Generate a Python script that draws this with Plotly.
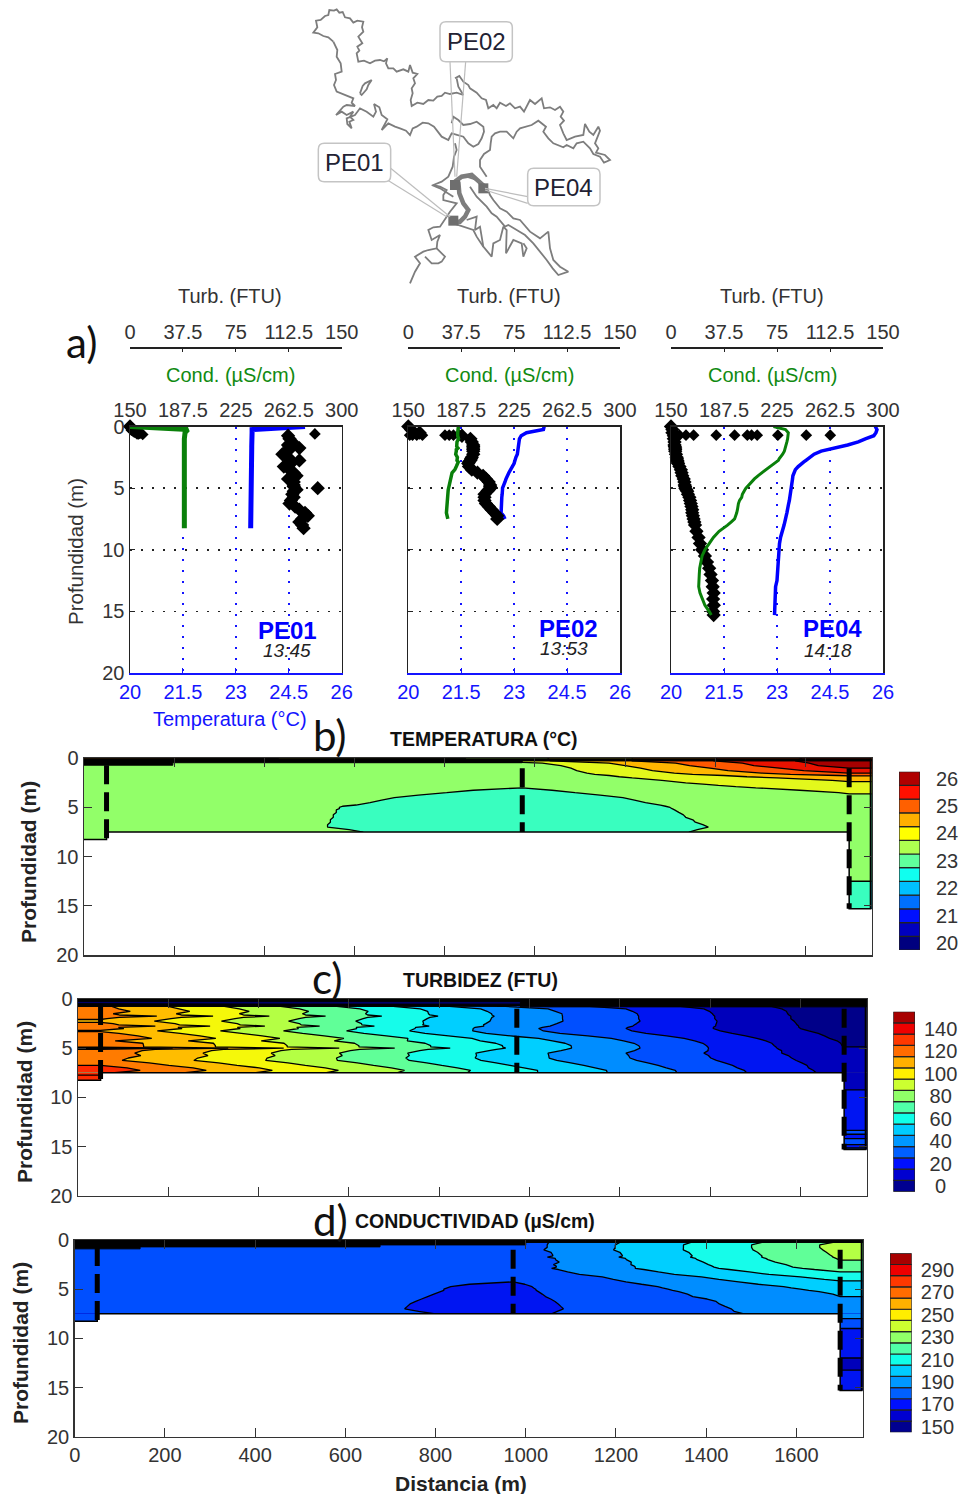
import plotly.graph_objects as go

W, H = 961, 1494
FONT = "Liberation Sans"
INK = "#333333"
BLUE = "#1414ff"
GREEN = "#118a11"

# ---------------- lake map (traced outline, reference crop units) ----------------
MAP_PATHS = [
    [(100,125),(85,112),(70,108),(55,100),(40,98),(52,82),(48,62),(62,60),(75,48),(85,45),(88,30),(102,32),(110,28),(118,38),(128,36),(135,52),(150,55),(160,68),(172,62),(190,65),(186,82),(190,95),(175,110),(180,118),(187,130),(172,140),(178,152),(170,160),(175,185),(192,182),(210,190),(225,182),(240,180),(252,184),(262,175),(258,190),(265,205),(280,205),(290,215),(310,208),(325,215),(330,195),(338,218),(352,222),(340,235),(345,250),(335,265),(338,280),(332,300),(335,318),(352,308),(370,312),(385,300),(400,302),(412,290),(425,288),(435,278),(450,282),(470,278),(490,285)],
    [(100,125),(112,150),(110,170),(122,190),(125,215),(105,222),(108,240),(102,255),(110,275),(135,285),(160,295),(155,308),(165,318),(140,315),(130,320),(108,345),(125,335),(140,345),(160,335),(150,350),(160,360),(148,365),(155,385),(142,372),(140,355),(165,345),(180,325),(200,335),(220,350),(228,335),(222,312),(238,322),(245,345),(262,358),(245,390),(265,370),(285,380),(300,385),(318,392),(330,405),(338,385),(350,380),(368,368),(385,370),(402,380),(425,410),(445,420),(455,400),(470,405),(490,410),(505,430),(520,440),(535,432),(545,415),(552,395),(550,380),(530,365),(510,372),(490,375),(475,360),(460,350),(455,370)],
    [(180,280),(188,258),(195,250),(215,240),(205,255),(200,268),(185,285),(180,280)],
    [(465,235),(478,228),(490,245),(505,255),(510,265),(530,278),(545,295),(558,300),(565,325),(580,315),(590,325),(600,308),(618,318),(630,310),(645,325),(660,320),(672,335),(690,300),(705,312),(725,295),(732,325),(750,322),(765,330),(780,320),(790,335),(782,350),(792,362),(780,375),(790,400),(800,420),(825,410),(850,405),(855,372),(868,395),(880,405),(895,380),(900,392),(885,430),(895,445),(888,458),(915,465),(930,480),(912,488),(900,470),(880,462),(870,445),(850,425),(830,430),(820,445),(800,435),(790,442),(770,435),(760,430),(745,415),(730,395),(738,380),(715,362),(695,375),(680,380),(660,385),(650,395),(640,415),(620,395),(600,395),(585,400),(575,410),(572,430),(570,450),(552,462),(540,480),(540,500),(560,530)],
    [(490,285),(475,260),(470,235)],
    [(465,430),(470,450),(462,470),(458,500),(445,530),(425,545),(400,555),(420,560),(440,570),(430,585),(430,600),(450,605),(470,610),(450,635),(440,650),(425,670),(420,680),(400,682),(385,690),(395,720),(420,705),(412,725),(410,745),(385,750),(370,755),(345,770),(360,790),(345,815),(330,850)],
    [(410,745),(435,770),(425,785),(415,790),(395,790),(375,770)],
    [(500,530),(530,540),(560,560),(570,585),(580,600),(600,625),(620,635),(640,655),(660,660),(690,695),(720,715),(745,695),(750,745),(755,760),(760,780),(780,800),(805,815),(775,825),(758,805),(740,780),(720,755),(700,730),(675,705),(650,690),(625,675),(615,680),(600,660),(590,650),(575,640),(560,620),(530,590),(510,560)],
    [(500,660),(530,650),(525,690),(540,680),(550,740),(575,770),(580,730),(600,720),(610,680),(620,690),(618,760),(640,720),(665,730),(670,770),(680,745),(670,730)],
    [(460,670),(490,680),(520,690),(530,710),(550,740)],
    [(395,555),(420,565),(460,590)],
]
MAP_THICK_A = [(465,545),(485,530),(515,525),(540,545),(560,565)]
MAP_THICK_B = [(475,545),(478,580),(490,610),(505,630),(495,650),(480,665),(460,665)]
MAP_STATIONS_X = [465, 550, 460]
MAP_STATIONS_Y = [555, 565, 662]
MAP_LEADERS = [
    [(450,185),(465,530)], [(497,185),(470,530)],
    [(272,505),(450,650)], [(262,540),(440,650)],
    [(683,590),(555,565)], [(683,610),(555,570)],
]
MAP_BOXES = [("PE02",420,637,65,185),("PE01",55,272,430,545),("PE04",683,900,505,617)]

# ---------------- station profiles ----------------
DEPTH_PE01 = [0,.25,.5,.75,1,1.25,1.5,1.625,1.75,1.875,2,2.25,2.5,2.625,2.75,2.875,3,3.25,3.5,3.75,4,4.25,4.5,4.75,4.875,5,5.125,5.25,5.5,5.75,6,6.25,6.5,6.75,7,7.25,7.5,7.75,8,8.25]
TEMP_PE01 = [24.96,23.46,23.46,23.45,23.45,23.45,23.45,23.45,23.45,23.45,23.45,23.45,23.45,23.45,23.45,23.45,23.45,23.45,23.45,23.45,23.45,23.45,23.45,23.45,23.42,23.42,23.42,23.42,23.42,23.42,23.42,23.42,23.42,23.42,23.42,23.42,23.42,23.42,23.42,23.42]
COND_PE01 = [150,191,189,188.5,188.5,188.5,188.5,188.5,188.5,188.5,188.5,188.5,188.5,188.5,188.5,188.5,188.5,188.5,188.5,188.5,188.5,188.5,188.5,188.5,188.5,188.5,188.5,188.5,188.5,188.5,188.5,188.5,188.5,188.5,188.5,188.5,188.5,188.5,188.5,188.5]
TURB_PE01 = [0,2,6,112,113,115,112,113,120,113,111,108,112,113,120,113,114,109,113,116,118,112,116,116,116,133,118,116,115,116,114,113,117,120,124,126,122,120,122,123]
SPIKE_TURB_PE01 = [1,3,5,7,9,131]
SPIKE_DEPTH_PE01 = [.3,.45,.6,.55,.65,.6]

DEPTH_PE02 = [0,.25,.5,.75,1,1.25,1.5,1.625,1.75,1.875,2,2.25,2.5,2.625,2.75,2.875,3,3.25,3.5,3.75,4,4.25,4.5,4.75,4.875,5,5.125,5.25,5.5,5.75,6,6.25,6.5,6.75,7,7.25,7.5]
TEMP_PE02 = [23.85,23.83,23.35,23.2,23.15,23.14,23.13,23.13,23.12,23.12,23.12,23.09,23.05,23.03,23.02,23.01,23.0,22.94,22.9,22.85,22.8,22.77,22.74,22.7,22.68,22.67,22.67,22.66,22.66,22.65,22.65,22.64,22.64,22.63,22.63,22.7,22.74]
COND_PE02 = [185.5,185,185,185,185.6,184.5,184.3,184.3,185.2,184,184,183.6,184.8,184.5,184.5,185.4,184.7,184,183,181,180.5,180,179,178.5,178.4,178.3,178.3,178.2,178,177.8,177.6,177.4,177.2,177.1,177,177.5,178]
TURB_PE02 = [0,2,8,38,44,45,46,46,46,46,46,46,45,44.5,44,43,42.5,43,45,49,53,55,57,58,58,58,57,56,54,54,54,55,57,59,61,63,63]
SPIKE_TURB_PE02 = [1,3,6,10,26,29,32,36]
SPIKE_DEPTH_PE02 = [.7,.7,.7,.7,.7,.7,.7,.7]

DEPTH_PE04 = [0,.25,.5,.75,1,1.25,1.5,1.625,1.75,1.875,2,2.25,2.5,2.625,2.75,2.875,3,3.25,3.5,3.75,4,4.25,4.5,4.75,4.875,5,5.125,5.25,5.5,5.75,6,6.25,6.5,6.75,7,7.25,7.5,7.75,8,8.5,9,9.5,10,10.5,11,11.5,12,12.5,13,13.5,14,14.5,15,15.3]
TEMP_PE04 = [25.78,25.83,25.8,25.74,25.5,25.3,25.0,24.8,24.55,24.4,24.25,24.05,23.95,23.88,23.82,23.76,23.7,23.6,23.52,23.48,23.45,23.44,23.43,23.41,23.41,23.4,23.39,23.39,23.37,23.36,23.35,23.33,23.32,23.3,23.28,23.26,23.25,23.22,23.2,23.14,23.1,23.07,23.06,23.04,23.03,23.01,23.01,23.0,22.96,22.95,22.94,22.94,22.93,22.93]
COND_PE04 = [222.5,231,233,233,232.5,232,231.5,231.2,231,230.6,230.2,229,227,226.5,226,224.5,223,220,217.5,214,211.5,209,207,204.5,203.8,203,202.3,201.5,200.5,200,198.5,197.7,197.5,197,196.5,196,195,192.5,190,184,180,177,174,172,171,170.3,170,169.6,169.6,170.5,172,174,177,178.5]
TURB_PE04 = [0,1,1,2,2,2.5,2.5,2.7,3,3,3,3.5,4,4.2,4.5,4.7,5,6,7,7.5,8,9,9.5,9.7,10,10.2,10.8,11.5,12,13,13.5,14,14.5,15,15,15.5,16,16.5,17,18,19.5,20.5,22,24,25.5,27,28,29,29.5,30.2,29.8,30.3,29.8,30.2]
SPIKE_TURB_PE04 = [6,10.6,16,32,45,54,57,61,75.6,95.7,112.7]
SPIKE_DEPTH_PE04 = [.7,.7,.7,.7,.7,.7,.7,.7,.7,.7,.7]

PROFILE_NAMES = ["PE01","PE02","PE04"]
PROFILE_TIMES = ["13:45","13:53","14:18"]
DEPTHS = [DEPTH_PE01,DEPTH_PE02,DEPTH_PE04]
TEMPS = [TEMP_PE01,TEMP_PE02,TEMP_PE04]
CONDS = [COND_PE01,COND_PE02,COND_PE04]
TURBS = [TURB_PE01,TURB_PE02,TURB_PE04]
SPIKE_T = [SPIKE_TURB_PE01,SPIKE_TURB_PE02,SPIKE_TURB_PE04]
SPIKE_D = [SPIKE_DEPTH_PE01,SPIKE_DEPTH_PE02,SPIKE_DEPTH_PE04]

TEMP_TICKS = [20,21.5,23,24.5,26]
TEMP_LABELS = ["20","21.5","23","24.5","26"]
TURB_TICKS = [0,37.5,75,112.5,150]
TURB_LABELS = ["0","37.5","75","112.5","150"]
COND_TICKS = [150,187.5,225,262.5,300]
COND_LABELS = ["150","187.5","225","262.5","300"]
DEPTH_TICKS = [0,5,10,15,20]

# ---------------- sections ----------------
STATION_X = [50,972,1697]
SECTION_END = 1747
DIST_TICKS = [0,200,400,600,800,1000,1200,1400,1600]

SURF_B_X = [0,197,197,972,972,1747]
SURF_B_D = [.7,.7,.45,.45,.27,.27]
SURF_C_X = [0,980,980,1747]
SURF_C_D = [.28,.28,.8,.8]
SURF_D_X = [0,145,145,677,677,1000,1000,1747]
SURF_D_D = [.9,.9,.7,.7,.5,.5,.25,.25]

MAP_COLORS_T = ['#00007a','#0000a8','#0000e8','#0040ff','#0090ff','#00dcff','#3cffbc','#8fff6c','#dfff20','#ffc800','#ff7000','#ff1c00','#c80000','#800000']
MAP_COLORS_FINE = ['#000080','#000090','#0000d8','#0020ff','#0060ff','#0098ff','#00d8ff','#18ffe8','#60ff98','#afff48','#f4ff0c','#ffc800','#ff9000','#ff4000','#ff0000','#c00000','#800000']

BAR_COLORS_T = ['#00007f','#0000bf','#0010ff','#0070ff','#00c0ff','#10ffef','#60ff9c','#afff50','#ffff00','#ffb000','#ff6000','#ff1000','#b00000']
BAR_COLORS_FINE = ['#000090','#0000d0','#0010ff','#0060ff','#0098ff','#00ccff','#10ffe8','#50ffa8','#90ff68','#ccff30','#ffee00','#ffb000','#ff6c00','#ff3800','#ee0000','#a80000']
BAR_CENTERS_T = [20,20.5,21,21.5,22,22.5,23,23.5,24,24.5,25,25.5,26]
BAR_CENTERS_C = [0,10,20,30,40,50,60,70,80,90,100,110,120,130,140,150]
BAR_CENTERS_D = [150,160,170,180,190,200,210,220,230,240,250,260,270,280,290,300]
BAR_TICKS_T = [20,21,22,23,24,25,26]
BAR_TICKS_C = [0,20,40,60,80,100,120,140]
BAR_TICKS_D = [150,170,190,210,230,250,270,290]

fig = go.Figure()
layout = {}
annotations = []
shapes = []
counter = {"n": 0}

def dx(l, r): return [l / W, r / W]
def dy(t, b): return [1 - b / H, 1 - t / H]

def axes(xcfg, ycfg):
    counter["n"] += 1
    n = counter["n"]
    suf = "" if n == 1 else str(n)
    xname, yname = "x" + suf, "y" + suf
    xcfg = dict(xcfg, anchor=xcfg.get("anchor", yname))
    ycfg = dict(ycfg, anchor=ycfg.get("anchor", xname))
    layout["xaxis" + suf] = xcfg
    layout["yaxis" + suf] = ycfg
    return xname, yname

def extra_x(cfg):
    counter["n"] += 1
    n = counter["n"]
    layout[f"xaxis{n}"] = cfg
    return f"x{n}"

def note(x, y, text, size=18, color=INK, bold=False, italic=False, family=FONT, angle=0):
    if bold: text = f"<b>{text}</b>"
    if italic: text = f"<i>{text}</i>"
    annotations.append(dict(x=x / W, y=1 - y / H, xref="paper", yref="paper", text=text, showarrow=False,
                            xanchor="center", yanchor="middle", textangle=angle,
                            font=dict(family=family, size=size, color=color)))

tick_font = dict(family=FONT, size=20, color=INK)

# ---------- map ----------
mx, my = axes(dict(domain=dx(300, 620), range=[0, 960], visible=False, fixedrange=True),
              dict(domain=dy(0, 290), range=[870, 0], visible=False, fixedrange=True))
for path in MAP_PATHS:
    fig.add_trace(go.Scatter(x=[p[0] for p in path], y=[p[1] for p in path], xaxis=mx, yaxis=my, mode="lines",
                             line=dict(color="#7d7d7d", width=1.8), hoverinfo="skip"))
for path in [MAP_THICK_A, MAP_THICK_B]:
    fig.add_trace(go.Scatter(x=[p[0] for p in path], y=[p[1] for p in path], xaxis=mx, yaxis=my, mode="lines",
                             line=dict(color="#7d7d7d", width=4.5), hoverinfo="skip"))
fig.add_trace(go.Scatter(x=MAP_STATIONS_X, y=MAP_STATIONS_Y, xaxis=mx, yaxis=my, mode="markers",
                         marker=dict(color="#6e6e6e", size=10, symbol="square"), hoverinfo="skip"))
for seg in MAP_LEADERS:
    fig.add_trace(go.Scatter(x=[p[0] for p in seg], y=[p[1] for p in seg], xaxis=mx, yaxis=my, mode="lines",
                             line=dict(color="#bdbdbd", width=1.2), hoverinfo="skip"))
for name, l, r, t, b in MAP_BOXES:
    c = 18
    path = (f"M {l+c} {t} L {r-c} {t} Q {r} {t} {r} {t+c} L {r} {b-c} Q {r} {b} {r-c} {b} "
            f"L {l+c} {b} Q {l} {b} {l} {b-c} L {l} {t+c} Q {l} {t} {l+c} {t} Z")
    shapes.append(dict(type="path", xref=mx, yref=my, path=path, fillcolor="white",
                       line=dict(color="#c4c4c4", width=1.5), layer="above"))
    annotations.append(dict(x=(l + r) / 2, y=(t + b) / 2, xref=mx, yref=my, text=name, showarrow=False,
                            font=dict(family=FONT, size=24, color="#222233")))

# ---------- profile panels ----------
PANEL_L = [130, 408.3, 671]
PANEL_R = [341.7, 620, 883]
PANEL_T, PANEL_B = 426.5, 673
TITLE_X = [230, 509, 772]
NAME_POS = [(287, 630, 287, 650), (568, 628, 564, 648), (832, 628, 828, 650)]
for i in range(3):
    l, r = PANEL_L[i], PANEL_R[i]
    tx, ty = axes(
        dict(domain=dx(l, r), range=[20, 26], side="bottom", tickmode="array", tickvals=TEMP_TICKS, ticktext=TEMP_LABELS,
             showline=True, linecolor=BLUE, linewidth=1.5, ticks="inside", ticklen=5, tickcolor=BLUE,
             tickfont=dict(family=FONT, size=20, color=BLUE), showgrid=True, gridcolor=BLUE, griddash="2px,9px", gridwidth=1.5,
             zeroline=False, fixedrange=True),
        dict(domain=dy(PANEL_T, PANEL_B), range=[20, 0], tickmode="array", tickvals=DEPTH_TICKS,
             showticklabels=i == 0, tickfont=tick_font, showline=True, linecolor="#222222", linewidth=1.5, mirror=True,
             ticks="inside", ticklen=5, tickcolor="#222222", showgrid=True, gridcolor="#222222", griddash="2px,9px",
             gridwidth=1.5, zeroline=False, fixedrange=True))
    turb_ax = extra_x(dict(overlaying=tx, side="top", anchor="free", position=1 - 347.3 / H, range=[0, 150],
                           tickmode="array", tickvals=TURB_TICKS, ticktext=TURB_LABELS, tickfont=tick_font,
                           showline=True, linecolor="#222222", linewidth=1.5, ticks="inside", ticklen=3,
                           tickcolor="#222222", showgrid=False, zeroline=False, fixedrange=True))
    cond_ax = extra_x(dict(overlaying=tx, side="top", anchor=ty, range=[150, 300],
                           tickmode="array", tickvals=COND_TICKS, ticktext=COND_LABELS, tickfont=tick_font,
                           showline=True, linecolor="#222222", linewidth=1.5, ticks="", showgrid=False,
                           zeroline=False, fixedrange=True))
    fig.add_trace(go.Scatter(x=TEMPS[i], y=DEPTHS[i], xaxis=tx, yaxis=ty, mode="lines",
                             line=dict(color="#0000ff", width=[5, 3.5, 3.5][i]), cliponaxis=False, hoverinfo="skip"))
    fig.add_trace(go.Scatter(x=CONDS[i], y=DEPTHS[i], xaxis=cond_ax, yaxis=ty, mode="lines",
                             line=dict(color="#0a800a", width=[5, 3.5, 3][i]), cliponaxis=False, hoverinfo="skip"))
    fig.add_trace(go.Scatter(x=TURBS[i], y=DEPTHS[i], xaxis=turb_ax, yaxis=ty, mode="markers",
                             marker=dict(color="black", symbol="diamond", size=11), cliponaxis=False, hoverinfo="skip"))
    fig.add_trace(go.Scatter(x=SPIKE_T[i], y=SPIKE_D[i], xaxis=turb_ax, yaxis=ty, mode="markers",
                             marker=dict(color="black", symbol="diamond", size=9), cliponaxis=False, hoverinfo="skip"))
    note(TITLE_X[i], 296, "Turb. (FTU)", 20, INK)
    note(TITLE_X[i], 375, "Cond. (µS/cm)", 20, GREEN)
    nx, ny, tx2, ty2 = NAME_POS[i]
    note(nx, ny, PROFILE_NAMES[i], 24, "#0000ff", bold=True)
    note(tx2, ty2, PROFILE_TIMES[i], 19, "#222222", italic=True)

note(230, 719, "Temperatura (°C)", 20, BLUE)
note(76, 552, "Profundidad (m)", 20.5, INK, angle=-90)

# ---------- sections ----------
SECTIONS = [
    dict(l=84, r=871.7, t=758.3, b=955, data=TEMPS, start=20, end=26, size=.5, colors=MAP_COLORS_T,
         title="TEMPERATURA (°C)", tx=484, ty=739, ylx=29, yly=862, sx=SURF_B_X, sd=SURF_B_D,
         bar=(899, 920, 771.7, 950), centers=BAR_CENTERS_T, barcolors=BAR_COLORS_T, ticks=BAR_TICKS_T, step=.5, pad=11),
    dict(l=78, r=866.7, t=999, b=1195.7, data=TURBS, start=0, end=150, size=10, colors=MAP_COLORS_FINE,
         title="TURBIDEZ (FTU)", tx=480, ty=980, ylx=24, yly=1102, sx=SURF_C_X, sd=SURF_C_D,
         bar=(893.3, 915, 1011.7, 1191.7), centers=BAR_CENTERS_C, barcolors=BAR_COLORS_FINE, ticks=BAR_TICKS_C, step=10, pad=4),
    dict(l=74.7, r=862.7, t=1240, b=1436.7, data=CONDS, start=150, end=300, size=10, colors=MAP_COLORS_FINE,
         title="CONDUCTIVIDAD (µS/cm)", tx=475, ty=1221, ylx=20, yly=1343, sx=SURF_D_X, sd=SURF_D_D,
         bar=(890, 911.7, 1253.3, 1432.3), centers=BAR_CENTERS_D, barcolors=BAR_COLORS_FINE, ticks=BAR_TICKS_D, step=10, pad=4),
]
N_MAIN = len(DEPTH_PE02)
for k, s in enumerate(SECTIONS):
    last = k == 2
    xa, ya = axes(
        dict(domain=dx(s["l"], s["r"]), range=[0, SECTION_END], tickmode="array", tickvals=DIST_TICKS,
             showticklabels=last, tickfont=tick_font, ticks="inside", ticklen=9, tickcolor="#333333",
             showline=True, linecolor="#333333", linewidth=1.5, mirror="ticks", showgrid=False, zeroline=False, fixedrange=True),
        dict(domain=dy(s["t"], s["b"]), range=[20, 0], tickmode="array", tickvals=DEPTH_TICKS, tickfont=tick_font,
             ticks="inside", ticklen=8, tickcolor="#333333", showline=True, linecolor="#333333", linewidth=1.5, mirror="ticks",
             showgrid=False, zeroline=False, fixedrange=True))
    p1, p2, p4 = s["data"]
    nlev = round((s["end"] - s["start"]) / s["size"]) + 1
    scale = [[j / nlev, c] for j, c in enumerate(s["colors"])]
    common = dict(xaxis=xa, yaxis=ya, colorscale=scale, zmin=s["start"], zmax=s["end"], showscale=False,
                  contours=dict(start=s["start"], end=s["end"], size=s["size"], coloring="fill", showlines=True),
                  line=dict(color="black", width=1.3, smoothing=0), hoverinfo="skip")
    main_z = [[p1[j], p1[j], p2[j], p4[j], p4[j]] for j in range(N_MAIN)]
    fig.add_trace(go.Contour(x=[0, STATION_X[0], STATION_X[1], STATION_X[2], SECTION_END], y=DEPTH_PE02[:N_MAIN], z=main_z, **common))
    left_d = DEPTH_PE01[N_MAIN - 1:]
    left_z = [[v, v] for v in p1[N_MAIN - 1:]]
    fig.add_trace(go.Contour(x=[0, STATION_X[0]], y=left_d, z=left_z, **common))
    right_d = DEPTH_PE04[N_MAIN - 1:]
    right_z = [[v, v] for v in p4[N_MAIN - 1:]]
    fig.add_trace(go.Contour(x=[STATION_X[2], SECTION_END], y=right_d, z=right_z, **common))

    # surface black band
    sx, sd = s["sx"], s["sd"]
    fig.add_trace(go.Scatter(x=sx + sx[::-1], y=sd + [0] * len(sd), xaxis=xa, yaxis=ya, mode="lines", fill="toself",
                             fillcolor="black", line=dict(color="black", width=1), hoverinfo="skip"))
    # section outline
    d1, d4 = DEPTH_PE01[-1], DEPTH_PE04[-1]
    d2 = DEPTH_PE02[-1]
    fig.add_trace(go.Scatter(x=[0, STATION_X[0], STATION_X[0], STATION_X[2], STATION_X[2], SECTION_END],
                             y=[d1, d1, d2, d2, d4, d4], xaxis=xa, yaxis=ya, mode="lines",
                             line=dict(color="black", width=1.5), cliponaxis=False, hoverinfo="skip"))
    fig.add_trace(go.Scatter(x=[SECTION_END, SECTION_END], y=[0, d4], xaxis=xa, yaxis=ya, mode="lines",
                             line=dict(color="black", width=4), cliponaxis=False, hoverinfo="skip"))
    # station dashed lines
    starts = [.7, 1, 1]
    ends = [d1, d2, d4]
    for j in range(3):
        fig.add_trace(go.Scatter(x=[STATION_X[j], STATION_X[j]], y=[starts[j], ends[j]], xaxis=xa, yaxis=ya, mode="lines",
                                 line=dict(color="black", width=5, dash="19px,8px"), hoverinfo="skip"))
    # discrete colour scale
    bl, br, bt, bb = s["bar"]
    step = s["step"]
    centers = s["centers"]
    widest = max(len(str(v)) for v in s["ticks"])
    labels = ["\u00a0" * (widest - len(str(v))) + str(v) for v in s["ticks"]]
    bxa, bya = axes(
        dict(domain=dx(bl, br), range=[-.5, .5], visible=False, fixedrange=True),
        dict(domain=dy(bt, bb), range=[centers[0] - step / 2, centers[-1] + step / 2], side="right",
             tickmode="array", tickvals=s["ticks"], ticktext=labels, tickfont=tick_font, ticks="outside", ticklen=s["pad"],
             tickcolor="rgba(0,0,0,0)", showline=False, showgrid=False, zeroline=False, fixedrange=True))
    fig.add_trace(go.Bar(x=[0] * len(centers), y=[step] * len(centers), base=[v - step / 2 for v in centers], width=1,
                         xaxis=bxa, yaxis=bya, orientation="v",
                         marker=dict(color=s["barcolors"], line=dict(color="#222222", width=1.2)), hoverinfo="skip"))
    note(s["tx"], s["ty"], s["title"], 19.5, "#111111", bold=True)
    note(s["ylx"], s["yly"], "Profundidad (m)", 21, "#222222", bold=True, angle=-90)

note(461, 1483, "Distancia (m)", 21, "#222222", bold=True)

for txt, x, y in [("a)", 81, 342), ("b)", 330, 735), ("c)", 327, 978), ("d)", 330, 1220)]:
    note(x, y, txt, 42, "#111111", family="Lato")

fig.update_layout(width=W, height=H, margin=dict(l=0, r=0, t=0, b=0, autoexpand=False), paper_bgcolor="white",
                  plot_bgcolor="white", showlegend=False, hovermode=False, barmode="overlay",
                  annotations=annotations, shapes=shapes, **layout)
fig.write_html("out.html", config={"displayModeBar": False, "staticPlot": True},
               post_script="document.body.style.margin='0';")
